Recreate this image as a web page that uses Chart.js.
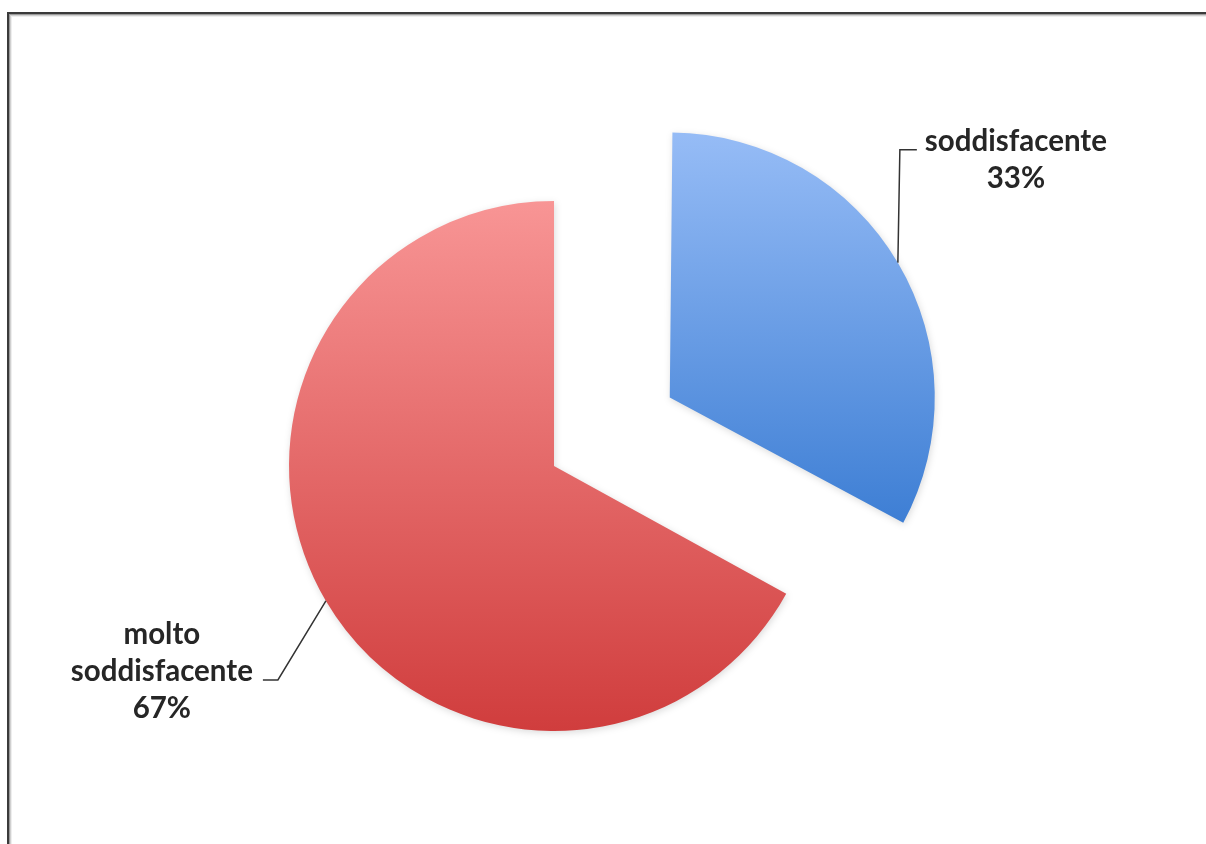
<!DOCTYPE html>
<html><head><meta charset="utf-8">
<script src="https://cdn.jsdelivr.net/npm/chart.js@4.4.1/dist/chart.umd.min.js"></script>
<style>
html,body{margin:0;padding:0;background:#fff;overflow:hidden;}
#wrap{position:relative;width:1206px;height:844px;overflow:hidden;background:#fff;}
canvas{position:absolute;left:0;top:0;}
</style></head><body>
<div id="wrap"><canvas id="c" width="1206" height="844"></canvas></div>
<script>
// ---- data ----
const categories = ["soddisfacente", "molto soddisfacente"];
const values = [33, 67];
const labelText = ["soddisfacente", "molto\nsoddisfacente"];

// ---- styles ----
const colorsTop = ["#96BCF6", "#F89595"];
const colorsBottom = ["#3D7ED4", "#D03D3D"];
const PIE_RADIUS = 265;
const explode = [538, 0];           // Chart.js translates arcs by offset/4
const leader = [
  {dx: 2, dy: -113, hor: 17, gap: 8},
  {dx: -48, dy: 79, hor: -15, gap: 10}
];
const LINE_H = 37;
const TEXT_COLOR = "#262626";

const total = values.reduce((a, b) => a + b, 0);

function sliceGradient(context) {
  const chart = context.chart;
  const area = chart.chartArea;
  const i = context.dataIndex;
  if (!area) return colorsTop[i];
  const cx = (area.left + area.right) / 2, cy = (area.top + area.bottom) / 2;
  let acc = 0;
  for (let k = 0; k < i; k++) acc += values[k];
  const a0 = -Math.PI / 2 + acc / total * 2 * Math.PI;
  const a1 = a0 + values[i] / total * 2 * Math.PI;
  let ys = [cy, cy + Math.sin(a0) * PIE_RADIUS, cy + Math.sin(a1) * PIE_RADIUS];
  [-Math.PI / 2, Math.PI / 2, 3 * Math.PI / 2].forEach(a => { if (a >= a0 && a <= a1) ys.push(cy + Math.sin(a) * PIE_RADIUS); });
  const top = Math.min(...ys), bot = Math.max(...ys);
  const g = chart.ctx.createLinearGradient(0, top, 0, bot);
  g.addColorStop(0, colorsTop[i]);
  g.addColorStop(1, colorsBottom[i]);
  return g;
}

// picture frame (top and left edges)
const framePlugin = {
  id: 'frame',
  beforeDraw(chart) {
    const ctx = chart.ctx;
    const W = chart.width, H = chart.height;
    ctx.save();
    const shades = ['#3a3a3a', '#3a3a3a', '#9a9a9a', '#d0d0d0', '#eeeeee'];
    shades.forEach((c, k) => {
      ctx.fillStyle = c;
      ctx.fillRect(7 + k, 12 + k, W, 1);
      ctx.fillRect(7 + k, 12 + k, 1, H);
    });
    ctx.restore();
  }
};

const shadowPlugin = {
  id: 'shadow',
  beforeDatasetsDraw(chart) {
    const ctx = chart.ctx;
    ctx.save();
    ctx.shadowColor = 'rgba(0,0,0,0.14)';
    ctx.shadowBlur = 7;
    ctx.shadowOffsetX = 1;
    ctx.shadowOffsetY = 2;
  },
  afterDatasetsDraw(chart) { chart.ctx.restore(); }
};

// keep exploded slice the same radius as the others
const radiusFix = {
  id: 'radiusFix',
  beforeDatasetDraw(chart, args) {
    args.meta.data.forEach(el => {
      const off = (el.options.offset || 0) / 4;
      const fix = 1 - Math.sin(Math.min(Math.PI, el.circumference || 0));
      el._rfix = off * fix;
      el.outerRadius -= el._rfix;
    });
  },
  afterDatasetDraw(chart, args) {
    args.meta.data.forEach(el => { el.outerRadius += el._rfix || 0; el._rfix = 0; });
  }
};

const labelPlugin = {
  id: 'outLabels',
  afterDatasetsDraw(chart) {
    const ctx = chart.ctx;
    const meta = chart.getDatasetMeta(0);
    ctx.save();
    ctx.font = "bold 100px Lato";
    const w100 = ctx.measureText("soddisfacente").width;
    const fs = Math.round(100 * 182 / w100 * 10) / 10;
    ctx.font = "bold " + fs + "px Lato";
    meta.data.forEach((el, i) => {
      const mid = (el.startAngle + el.endAngle) / 2;
      const off = (el.options.offset || 0) / 4;
      const sx = el.x + Math.cos(mid) * (el.outerRadius + off);
      const sy = el.y + Math.sin(mid) * (el.outerRadius + off);
      const L = leader[i];
      const ex = sx + L.dx, ey = sy + L.dy;
      const hx = ex + L.hor;
      ctx.strokeStyle = "#333";
      ctx.lineWidth = 1.5;
      ctx.beginPath();
      ctx.moveTo(sx, sy); ctx.lineTo(ex, ey); ctx.lineTo(hx, ey);
      ctx.stroke();
      const pct = Math.round(values[i] / total * 100) + "%";
      const lines = labelText[i].split("\n").concat([pct]);
      const maxW = Math.max(...lines.map(t => ctx.measureText(t).width));
      let centerX, firstBase;
      if (L.hor >= 0) {
        centerX = hx + L.gap + maxW / 2;
        firstBase = ey + 1;
      } else {
        centerX = hx - L.gap - maxW / 2;
        firstBase = ey + 1 - (lines.length - 2) * LINE_H;
      }
      ctx.fillStyle = TEXT_COLOR;
      ctx.textAlign = "center";
      ctx.textBaseline = "alphabetic";
      lines.forEach((t, k) => ctx.fillText(t, centerX, firstBase + k * LINE_H));
    });
    ctx.restore();
  }
};

new Chart(document.getElementById('c'), {
  type: 'pie',
  data: {
    labels: categories,
    datasets: [{
      data: values,
      backgroundColor: sliceGradient,
      borderWidth: 0,
      offset: explode
    }]
  },
  options: {
    responsive: false,
    animation: false,
    events: [],
    radius: PIE_RADIUS,
    layout: {padding: {left: 0, right: 98, top: 88, bottom: 0}},
    plugins: {legend: {display: false}, tooltip: {enabled: false}}
  },
  plugins: [framePlugin, shadowPlugin, radiusFix, labelPlugin]
});
</script>
</body></html>
